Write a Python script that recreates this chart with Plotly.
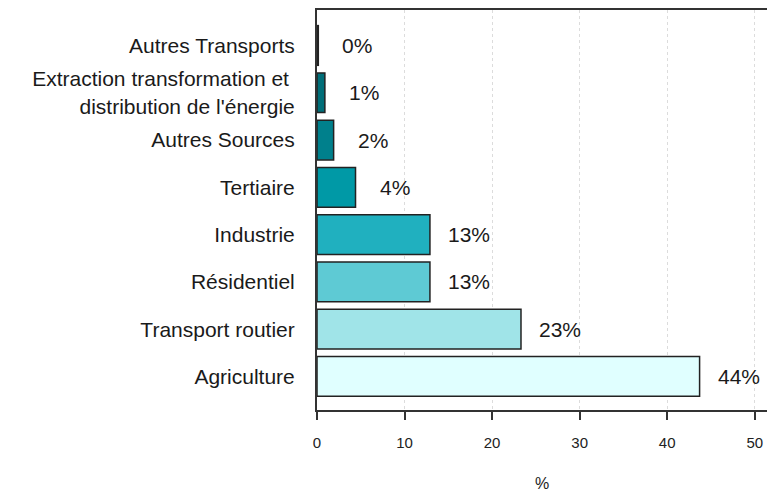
import plotly.graph_objects as go

categories = ["Agriculture", "Transport routier", "Résidentiel", "Industrie",
              "Tertiaire", "Autres Sources",
              "Extraction transformation et <br>distribution de l'énergie",
              "Autres Transports"]
values = [43.7, 23.3, 12.9, 12.9, 4.4, 1.9, 0.9, 0.15]
labels = ["44%", "23%", "13%", "13%", "4%", "2%", "1%", "0%"]
colors = ["#e0ffff", "#a0e4e8", "#5ecad4", "#20b0bf", "#0099a6",
          "#00808c", "#006e78", "#005a63"]
x_ticks = [0, 10, 20, 30, 40, 50]

fig = go.Figure(go.Bar(
    x=values,
    y=categories,
    orientation="h",
    width=0.84,
    marker=dict(color=colors, line=dict(color="#222222", width=1.5)),
    hoverinfo="skip",
))

for v, c, t in zip(values, categories, labels):
    fig.add_annotation(x=v, y=c, text=t, showarrow=False, xanchor="center",
                       xshift=39, font=dict(size=21, color="#1a1a1a",
                                            family="Arial, Liberation Sans"))

# the page body has an 8px margin, so the figure is shrunk to fit the window
fig.update_layout(
    width=759,
    height=484,
    margin=dict(l=309, r=0, t=2, b=79),
    plot_bgcolor="white",
    paper_bgcolor="white",
    font=dict(family="Arial, Liberation Sans", color="#1a1a1a"),
    showlegend=False,
    xaxis=dict(
        range=[0, 51.4],
        tickvals=x_ticks,
        ticks="outside",
        ticklen=8,
        tickwidth=2,
        tickcolor="#333333",
        ticklabelstandoff=10,
        ticklabeloverflow="allow",
        tickfont=dict(size=15, color="#222222"),
        showline=True,
        linecolor="#333333",
        linewidth=2,
        mirror=True,
        showgrid=True,
        gridcolor="#dcdcdc",
        griddash="dot",
        gridwidth=1,
        zeroline=False,
        title=dict(text="%", font=dict(size=16, color="#222222"), standoff=30),
    ),
    yaxis=dict(
        range=[-0.71, 7.75],
        showline=True,
        linecolor="#333333",
        linewidth=2,
        ticks="",
        ticklabelstandoff=16,
        tickfont=dict(size=21, color="#1a1a1a"),
        showgrid=False,
        zeroline=False,
    ),
)

fig.write_html("out.html")
